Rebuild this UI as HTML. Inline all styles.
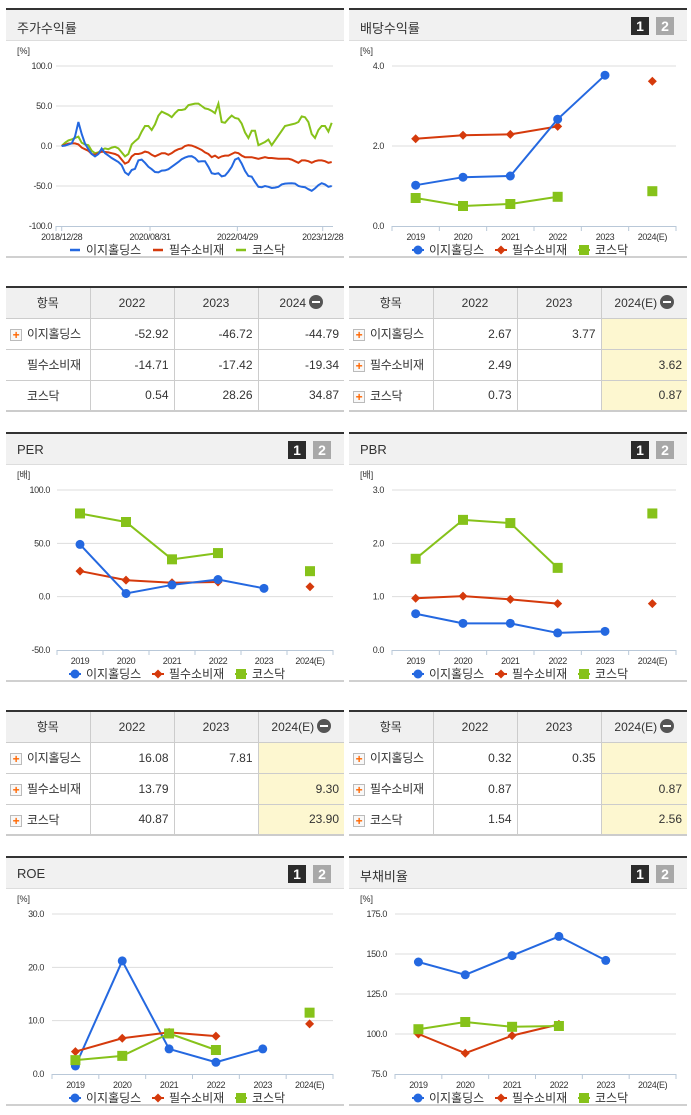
<!DOCTYPE html>
<html><head><meta charset="utf-8">
<style>
*{box-sizing:border-box;margin:0;padding:0}
body{width:691px;height:1115px;background:#fff;font-family:"Liberation Sans","Noto Sans CJK KR",sans-serif;color:#333;position:relative;overflow:hidden}
.panel{position:absolute;width:338px;height:250px}
.hdr{position:absolute;left:0;top:0;width:338px;height:33px;background:#f1f1f1;border-top:2px solid #333;border-bottom:1px solid #ddd}
.hdr .t{position:absolute;left:11px;top:8px;font-size:13px;color:#333}
.b1,.b2{position:absolute;top:7px;width:18px;height:18px;color:#fff;font-weight:bold;font-size:14px;text-align:center;line-height:18px}
.b1{right:38px;background:#2b2b2b}.b2{right:13px;background:#a8a8a8}
.bot{position:absolute;left:0;top:248px;width:338px;height:2px;background:#d0d0d0}
svg{position:absolute;left:0;top:33px}
table{position:absolute;width:338px;border-collapse:collapse;table-layout:fixed;font-size:12px;border-top:2px solid #333;border-bottom:2px solid #ccc}
th{height:31px;background:#f0f0f0;font-weight:normal;border-left:1px solid #ccc;border-bottom:1px solid #ccc;text-align:center;white-space:nowrap}
td{height:31px;border-left:1px solid #ccc;border-top:1px solid #ccc;text-align:right;padding-right:5px;white-space:nowrap;overflow:hidden}
th:first-child,td:first-child{border-left:none}
td:first-child{text-align:left;padding-left:21px;padding-right:0;position:relative;font-size:12px;letter-spacing:-0.3px}
.pl{position:absolute;left:4px;top:10px;width:12px;height:12px;border:1px solid #bbb;background:#f8f8f8;color:#f60;font-size:12px;line-height:10px;text-align:center;font-weight:bold}
.y{background:#fdf7d0}
.mi{display:inline-block;width:14px;height:14px;border-radius:7px;background:#555;vertical-align:-2px;position:relative;margin-left:3px}
.mi:after{content:"";position:absolute;left:3px;top:6px;width:8px;height:2px;background:#fff}
</style></head><body>

<div class="panel" style="left:6px;top:8px">
 <div class="hdr"><span class="t">주가수익률</span></div>
 <svg id="c1" width="338" height="215"></svg>
 <div class="bot"></div>
</div>
<div class="panel" style="left:349px;top:8px">
 <div class="hdr"><span class="t">배당수익률</span><span class="b1">1</span><span class="b2">2</span></div>
 <svg id="c2" width="338" height="215"></svg>
 <div class="bot"></div>
</div>
<div class="panel" style="left:6px;top:432px">
 <div class="hdr"><span class="t">PER</span><span class="b1">1</span><span class="b2">2</span></div>
 <svg id="c3" width="338" height="215"></svg>
 <div class="bot"></div>
</div>
<div class="panel" style="left:349px;top:432px">
 <div class="hdr"><span class="t">PBR</span><span class="b1">1</span><span class="b2">2</span></div>
 <svg id="c4" width="338" height="215"></svg>
 <div class="bot"></div>
</div>
<div class="panel" style="left:6px;top:856px">
 <div class="hdr"><span class="t">ROE</span><span class="b1">1</span><span class="b2">2</span></div>
 <svg id="c5" width="338" height="215"></svg>
 <div class="bot"></div>
</div>
<div class="panel" style="left:349px;top:856px">
 <div class="hdr"><span class="t">부채비율</span><span class="b1">1</span><span class="b2">2</span></div>
 <svg id="c6" width="338" height="215"></svg>
 <div class="bot"></div>
</div>

<table style="left:6px;top:286px">
<tr><th style="width:84px">항목</th><th style="width:84px">2022</th><th style="width:84px">2023</th><th>2024<span class="mi"></span></th></tr>
<tr><td><span class="pl">+</span>이지홀딩스</td><td>-52.92</td><td>-46.72</td><td>-44.79</td></tr>
<tr><td>필수소비재</td><td>-14.71</td><td>-17.42</td><td>-19.34</td></tr>
<tr><td>코스닥</td><td>0.54</td><td>28.26</td><td>34.87</td></tr>
</table>
<table style="left:349px;top:286px">
<tr><th style="width:84px">항목</th><th style="width:84px">2022</th><th style="width:84px">2023</th><th>2024(E)<span class="mi"></span></th></tr>
<tr><td><span class="pl">+</span>이지홀딩스</td><td>2.67</td><td>3.77</td><td class="y"></td></tr>
<tr><td><span class="pl">+</span>필수소비재</td><td>2.49</td><td></td><td class="y">3.62</td></tr>
<tr><td><span class="pl">+</span>코스닥</td><td>0.73</td><td></td><td class="y">0.87</td></tr>
</table>
<table style="left:6px;top:710px">
<tr><th style="width:84px">항목</th><th style="width:84px">2022</th><th style="width:84px">2023</th><th>2024(E)<span class="mi"></span></th></tr>
<tr><td><span class="pl">+</span>이지홀딩스</td><td>16.08</td><td>7.81</td><td class="y"></td></tr>
<tr><td><span class="pl">+</span>필수소비재</td><td>13.79</td><td></td><td class="y">9.30</td></tr>
<tr><td><span class="pl">+</span>코스닥</td><td>40.87</td><td></td><td class="y">23.90</td></tr>
</table>
<table style="left:349px;top:710px">
<tr><th style="width:84px">항목</th><th style="width:84px">2022</th><th style="width:84px">2023</th><th>2024(E)<span class="mi"></span></th></tr>
<tr><td><span class="pl">+</span>이지홀딩스</td><td>0.32</td><td>0.35</td><td class="y"></td></tr>
<tr><td><span class="pl">+</span>필수소비재</td><td>0.87</td><td></td><td class="y">0.87</td></tr>
<tr><td><span class="pl">+</span>코스닥</td><td>1.54</td><td></td><td class="y">2.56</td></tr>
</table>

<script>
// ---- stock return line chart data ----
const retEasy=[0,0.5,2,3.3,11.7,30,15,3,-4,-10,-13,-10,-3.3,-9,-12,-15,-17.5,-20,-24,-33,-36,-30,-28.5,-18,-17,-21,-26,-29,-32.5,-33,-30.8,-30.5,-29,-26,-23,-20,-16.5,-14.5,-13,-12.8,-15,-19.5,-19,-19,-26,-34,-35,-34,-38,-37,-32,-26,-17,-15,-22,-31,-37.5,-38.3,-45,-51,-51.5,-50,-51,-52.5,-52,-51,-48,-47,-46.7,-46.5,-47,-50,-51,-51.5,-54,-56,-53,-49,-46.5,-48,-51,-50];
const retStaples=[0,1.5,3,3.3,3.3,2,-2,-4,-6,-10,-11,-9,-7,-7.5,-8,-9,-10,-12,-17,-22,-20,-13,-10,-10,-9,-7,-8,-11,-13,-11,-9,-9,-11,-9,-6,-4,-3,0,1,0.5,-1,-3,-5,-8,-10,-14,-12,-15,-13,-12,-12,-10,-8,-9,-12,-14,-14,-14,-15,-16,-15,-14,-15,-15,-15.5,-16,-16,-16,-16,-17,-19,-21,-18,-18,-19,-21,-19,-18,-18,-19,-21,-20];
const retKosdaq=[0,4,7,8.3,10,11.7,4,2,1,-6,-9,-8,-5,-3,-4,-2,-1,-3,-8,-13,-10,2,6,9.5,18,25,25,20,27,38,43,41,39,36,41,45,45,46,51,52,53,53,50,47,46,44,41,53,30,29,34,38,35,34,28,17,10,19,19,1,3,5,8,1,7,13,19,25,26,27,28,30,37,36,30,15,10,20,25,25,18,29];
const retTicks=[100,50,0,-50,-100];
const retDateLabels=['2018/12/28','2020/08/31','2022/04/29','2023/12/28'];
const retDateIdx=[0,26.5,52.7,78.3];

// ---- category charts ----
const years=['2019','2020','2021','2022','2023','2024(E)'];
const divEasy=[1.02,1.22,1.25,2.67,3.77,null];
const divStaples=[2.18,2.27,2.29,2.49,null,3.62];
const divKosdaq=[0.70,0.50,0.55,0.73,null,0.87];
const divTicks=[4,2,0];
const perEasy=[49,3,11,16.08,7.81,null];
const perStaples=[24,15.5,13,13.79,null,9.30];
const perKosdaq=[78,70,35,40.87,null,23.90];
const perTicks=[100,50,0,-50];
const pbrEasy=[0.68,0.50,0.50,0.32,0.35,null];
const pbrStaples=[0.97,1.01,0.95,0.87,null,0.87];
const pbrKosdaq=[1.71,2.44,2.38,1.54,null,2.56];
const pbrTicks=[3,2,1,0];
const roeEasy=[1.5,21.2,4.7,2.2,4.7,null];
const roeStaples=[4.2,6.7,7.8,7.1,null,9.4];
const roeKosdaq=[2.6,3.4,7.6,4.5,null,11.5];
const roeTicks=[30,20,10,0];
const debtEasy=[145,137,149,161,146,null];
const debtStaples=[100,88,99,106,null,null];
const debtKosdaq=[103,107.5,104.5,105,null,null];
const debtTicks=[175,150,125,100,75];

const NS='http://www.w3.org/2000/svg';
const BLUE='#2468e0',RED='#d53a0c',GREEN='#86c21a';
const TOP=25,BOT=185;
function mk(svg,tag,attrs,txt){const e=document.createElementNS(NS,tag);for(const k in attrs)e.setAttribute(k,attrs[k]);if(txt!==undefined)e.textContent=txt;svg.appendChild(e);return e;}
function yAxis(svg,ticks,unit,x0,x1,labX){
  const mx=Math.max(...ticks),mn=Math.min(...ticks);
  const ys=v=>BOT-(v-mn)/(mx-mn)*(BOT-TOP);
  const u=mk(svg,'text',{x:11,y:13,'font-size':9,fill:'#333'},unit);
  
  
  ticks.forEach(t=>{
    if(t!==mn){const g=mk(svg,'line',{x1:x0,x2:x1,y1:ys(t),y2:ys(t),stroke:'#ddd'});
    
    }
    const l=mk(svg,'text',{x:labX,y:ys(t)+3,'font-size':9,'text-anchor':'end',fill:'#333','letter-spacing':'-0.4'},t.toFixed(1));
    
    
  });
  mk(svg,'line',{x1:x0,x2:x1,y1:BOT+0.5,y2:BOT+0.5,stroke:'#b9c8d8'});
  return ys;
}
function marker(svg,type,x,y,color){
  let m;
  if(type==='c')m=mk(svg,'circle',{cx:x,cy:y,r:4.5,fill:color});
  else if(type==='d')m=mk(svg,'path',{d:`M${x},${y-4.5}L${x+4.5},${y}L${x},${y+4.5}L${x-4.5},${y}Z`,fill:color});
  else m=mk(svg,'rect',{x:x-5,y:y-5,width:10,height:10,fill:color});
  return m;
}
function legend(svg,line){
  const items=[['이지홀딩스',BLUE,'c',69],['필수소비재',RED,'d',152],['코스닥',GREEN,'s',235]];
  items.forEach(([n,c,t,x])=>{
    if(line){mk(svg,'line',{x1:x-5,x2:x+5,y1:209,y2:209,stroke:c,'stroke-width':2.5});}
    else{mk(svg,'line',{x1:x-6,x2:x+6,y1:209,y2:209,stroke:c,'stroke-width':2});marker(svg,t,x,209,c);}
    const e=mk(svg,'text',{x:x+11,y:213,'font-size':12,fill:'#333'},n);
    
    
  });
}
function catChart(id,ticks,unit,series,x0,labX){
  const svg=document.getElementById(id);
  const x1=327;
  const ys=yAxis(svg,ticks,unit,x0,x1,labX);
  const bw=(x1-x0)/years.length;
  const xs=i=>x0+bw*(i+0.5);
  for(let i=0;i<=years.length;i++)mk(svg,'line',{x1:x0+bw*i,x2:x0+bw*i,y1:BOT,y2:BOT+5,stroke:'#b9c8d8'});
  years.forEach((y,i)=>{const t=mk(svg,'text',{x:xs(i),y:BOT+14,'font-size':9,'text-anchor':'middle',fill:'#333','letter-spacing':'-0.4'},y);
    
    });
  series.forEach(([vals,color,type,name])=>{
    for(let i=0;i<vals.length-1;i++){
      if(vals[i]!=null&&vals[i+1]!=null){
        const ln=mk(svg,'line',{x1:xs(i),y1:ys(vals[i]),x2:xs(i+1),y2:ys(vals[i+1]),stroke:color,'stroke-width':2});
        
        
      }
    }
    vals.forEach((v,i)=>{if(v==null)return;
      const m=marker(svg,type,xs(i),ys(v),color);
      
      });
  });
  legend(svg,false);
}
// line chart
(function(){
  const svg=document.getElementById('c1');
  const x0=50,x1=327;
  const ys=yAxis(svg,retTicks,'[%]',x0,x1,46);
  const n=retEasy.length;
  const xs=i=>55.7+i*(270/(n-1));
  mk(svg,'line',{x1:x0,x2:x0,y1:BOT,y2:BOT+5,stroke:'#b9c8d8'});
  retDateLabels.forEach((d,k)=>{
    const x=xs(retDateIdx[k]);
    mk(svg,'line',{x1:x,x2:x,y1:BOT,y2:BOT+5,stroke:'#b9c8d8'});
    const t=mk(svg,'text',{x:x,y:BOT+14,'font-size':9,'text-anchor':'middle',fill:'#333','letter-spacing':'-0.4'},d);
    
    
  });
  [[retKosdaq,GREEN,'kosdaq'],[retStaples,RED,'staples'],[retEasy,BLUE,'easy-holdings']].forEach(([v,c,nm])=>{
    const p=mk(svg,'polyline',{points:v.map((y,i)=>xs(i).toFixed(1)+','+ys(y).toFixed(1)).join(' '),fill:'none',stroke:c,'stroke-width':2});
    
    
  });
  legend(svg,true);
})();
catChart('c2',divTicks,'[%]',[[divKosdaq,GREEN,'s','kosdaq'],[divStaples,RED,'d','staples'],[divEasy,BLUE,'c','easy-holdings']],43,35);
catChart('c3',perTicks,'[배]',[[perKosdaq,GREEN,'s','kosdaq'],[perStaples,RED,'d','staples'],[perEasy,BLUE,'c','easy-holdings']],51,44);
catChart('c4',pbrTicks,'[배]',[[pbrKosdaq,GREEN,'s','kosdaq'],[pbrStaples,RED,'d','staples'],[pbrEasy,BLUE,'c','easy-holdings']],43,35);
catChart('c5',roeTicks,'[%]',[[roeEasy,BLUE,'c','easy-holdings'],[roeStaples,RED,'d','staples'],[roeKosdaq,GREEN,'s','kosdaq']],46,38);
catChart('c6',debtTicks,'[%]',[[debtEasy,BLUE,'c','easy-holdings'],[debtStaples,RED,'d','staples'],[debtKosdaq,GREEN,'s','kosdaq']],46,38);
</script>
</body></html>
